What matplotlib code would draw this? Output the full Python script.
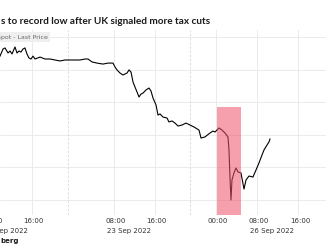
import matplotlib.pyplot as plt
from matplotlib.patches import Rectangle

# hours from 22 Sep 08:00 on the trading clock (weekend removed)
hours = [1.76, 2.34, 2.73, 3.32, 3.71, 4.10, 4.68, 5.07, 5.46, 5.85, 6.24, 6.63, 7.02, 7.41,
         7.80, 8.20, 8.59, 9.56, 10.54, 11.51, 12.49, 13.46, 14.44, 15.41, 16.39, 17.37, 18.34,
         18.93, 19.71, 20.68, 21.85, 22.83, 23.22, 23.80, 24.20, 24.59, 25.17, 25.76, 26.54,
         26.93, 27.32, 27.71, 28.10, 28.49, 28.88, 29.27, 29.66, 30.24, 30.83, 31.22, 31.61,
         32.20, 32.59, 32.98, 33.56, 34.34, 34.73, 35.32, 35.90, 36.49, 37.27, 38.05, 38.83,
         39.61, 40.59, 40.98, 41.76, 42.73, 43.32, 43.71, 44.49, 45.07, 45.66, 46.24, 46.44,
         46.63, 46.83, 47.02, 47.41, 47.80, 48.20, 48.78, 49.37, 49.76, 50.34, 51.12, 51.71,
         52.29, 52.88, 53.27, 53.85, 54.24, 54.44]
price = [1.1283, 1.1326, 1.1333, 1.1302, 1.1314, 1.1296, 1.1339, 1.1302, 1.1314, 1.1308,
         1.1326, 1.1333, 1.1296, 1.1271, 1.1265, 1.1283, 1.1265, 1.1277, 1.1265, 1.1265,
         1.1259, 1.1253, 1.1259, 1.1259, 1.1259, 1.1259, 1.1265, 1.1265, 1.1247, 1.1240,
         1.1234, 1.1240, 1.1240, 1.1240, 1.1216, 1.1198, 1.1179, 1.1167, 1.1179, 1.1198,
         1.1185, 1.1124, 1.1093, 1.1063, 1.1032, 1.1050, 1.1056, 1.1075, 1.1087, 1.1069,
         1.1026, 1.0983, 1.0921, 1.0928, 1.0909, 1.0903, 1.0879, 1.0885, 1.0872, 1.0854,
         1.0860, 1.0872, 1.0860, 1.0848, 1.0829, 1.0780, 1.0787, 1.0811, 1.0823, 1.0817,
         1.0842, 1.0829, 1.0811, 1.0787, 1.0707, 1.0541, 1.0400, 1.0523, 1.0566, 1.0596,
         1.0572, 1.0566, 1.0467, 1.0523, 1.0547, 1.0541, 1.0584, 1.0627, 1.0676, 1.0707,
         1.0737, 1.0756, 1.0774]

tick_hours = [0, 8, 24, 32, 44, 52, 60]
tick_labels = ['08:00', '16:00', '08:00', '16:00', '00:00', '08:00', '16:00']
date_hours = [0, 24, 52]
date_labels = ['22 Sep 2022', '23 Sep 2022', '26 Sep 2022']
session_breaks = [15.0, 38.8]
y_grid = [1.04, 1.06, 1.08, 1.10, 1.12, 1.14]
highlight = (44.1, 48.8, 1.0971)  # start hour, end hour, top price

fig = plt.figure(figsize=(3.26, 2.45), dpi=100)
ax = fig.add_axes([0, 1 - 215 / 245, 1, 185 / 245])

ax.plot(hours, price, color='black', lw=0.8, zorder=3)
ax.add_patch(Rectangle((highlight[0], 1.0), highlight[1] - highlight[0], highlight[2] - 1.0,
                       facecolor='#f0506a', alpha=0.55, lw=0, zorder=4))

for y in y_grid:
    ax.axhline(y, color='#e8e8e8', lw=0.6, zorder=1)
for h in tick_hours:
    ax.axvline(h, color='#e8e8e8', lw=0.6, zorder=1)
for h in session_breaks:
    ax.axvline(h, color='#d8d8d8', lw=0.6, ls=(0, (3, 2)), zorder=1)

for s in ax.spines.values():
    s.set_visible(False)
ax.set_xticks([])
ax.set_yticks([])
ax.set_xlim(1.756, 65.37)
ax.set_ylim(1.0308, 1.1443)

# time labels drawn as annotations so the half-hidden first one still shows
for h, lab in zip(tick_hours, tick_labels):
    ax.annotate(lab, xy=(h, 0), xycoords=('data', 'axes fraction'), xytext=(1.2, -2.5),
                textcoords='offset points', ha='center', va='top', fontsize=5, color='#333333',
                annotation_clip=False)
for h, lab in zip(date_hours, date_labels):
    ax.annotate(lab, xy=(h, 0), xycoords=('data', 'axes fraction'), xytext=(-5.3, -9.5),
                textcoords='offset points', ha='left', va='top', fontsize=5, color='#333333',
                annotation_clip=False)

fig.text(1 / 326, 1 - 22 / 245, 's to record low after UK signaled more tax cuts',
         fontsize=7.2, fontweight='bold', family='Lato', color='#1a1a1a', va='center')
fig.text(-3 / 326, 1 - 37 / 245, 'Spot - Last Price', fontsize=4.5, color='#666666', va='center',
         bbox=dict(boxstyle='square,pad=0.4', facecolor='#efefef', edgecolor='none'))
fig.text(0, 1 - 241 / 245, 'berg', fontsize=5, fontweight='bold', color='#1a1a1a', va='center')

fig.savefig('out.png', dpi=100)
